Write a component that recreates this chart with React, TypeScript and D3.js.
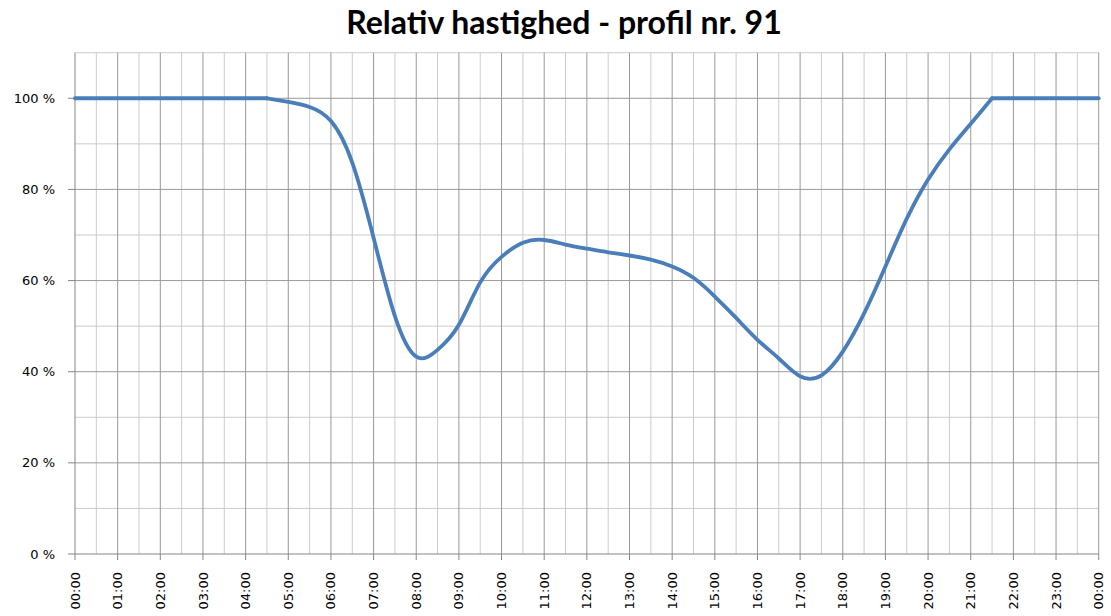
import React from "react";
import * as d3 from "d3";

const TITLE = "Relativ hastighed - profil nr. 91";

// time of day in hours (half-hourly samples)
const times: number[] = [
  0, 0.5, 1, 1.5, 2, 2.5, 3, 3.5, 4, 4.5, 5, 5.5, 6, 6.5, 7, 7.5, 8, 8.5, 9, 9.5,
  10, 10.5, 11, 11.5, 12, 12.5, 13, 13.5, 14, 14.5, 15, 15.5, 16, 16.5, 17, 17.5,
  18, 18.5, 19, 19.5, 20, 20.5, 21, 21.5, 22, 22.5, 23, 23.5, 24,
];
// relative speed in percent
const speeds: number[] = [
  100, 100, 100, 100, 100, 100, 100, 100, 100, 100, 99.2, 98.1, 95.0, 85.9, 69.4,
  52.2, 43.3, 44.8, 50.3, 59.6, 65.2, 68.3, 68.9, 67.9, 67.0, 66.2, 65.5, 64.6,
  63.1, 60.6, 56.5, 51.8, 47.0, 42.9, 39.0, 39.2, 44.4, 52.8, 63.1, 73.6, 82.2,
  88.8, 94.4, 100, 100, 100, 100, 100, 100,
];

const xTickHours: number[] = d3.range(0, 25);
const xTickLabels: string[] = [
  "00:00", "01:00", "02:00", "03:00", "04:00", "05:00", "06:00", "07:00", "08:00",
  "09:00", "10:00", "11:00", "12:00", "13:00", "14:00", "15:00", "16:00", "17:00",
  "18:00", "19:00", "20:00", "21:00", "22:00", "23:00", "00:00",
];
const yTickValues: number[] = [0, 20, 40, 60, 80, 100];
const yTickLabels: string[] = ["0 %", "20 %", "40 %", "60 %", "80 %", "100 %"];

const W = 1111;
const H = 616;
const LEFT = 75;
const RIGHT = 1098.7;
const BOTTOM = 554;
const TOP = 52.7;

export default function App() {
  const x = d3.scaleLinear().domain([0, 24]).range([LEFT, RIGHT]);
  const y = d3.scaleLinear().domain([0, 110]).range([BOTTOM, TOP]);

  const minorX = d3.range(0.5, 24, 1);
  const majorX = d3.range(1, 25, 1);
  const minorY = d3.range(10, 111, 20);
  const majorY = d3.range(20, 101, 20);

  const pts: [number, number][] = times.map((t, i) => [t, speeds[i]]);
  // split where the curve leaves / reaches the flat 100 % plateau
  const firstDrop = speeds.findIndex((v) => v < 100) - 1;
  let lastRise = speeds.length - 1;
  while (lastRise > 0 && speeds[lastRise - 1] >= 100) lastRise--;

  const straight = d3
    .line<[number, number]>()
    .x((d) => x(d[0]))
    .y((d) => y(d[1]));
  const smooth = d3
    .line<[number, number]>()
    .x((d) => x(d[0]))
    .y((d) => y(d[1]))
    .curve(d3.curveNatural);

  const segs = [
    straight(pts.slice(0, firstDrop + 1)) || "",
    smooth(pts.slice(firstDrop, lastRise + 1)) || "",
    straight(pts.slice(lastRise)) || "",
  ];

  const font = "DejaVu Sans, Verdana, sans-serif";
  const light = "#cccccc";
  const dark = "#999999";

  return (
    <div style={{ position: "absolute", left: 0, top: 0 }}>
      <svg width={W} height={H} style={{ display: "block", background: "#fff" }}>
        <text
          x={(346 + 782) / 2}
          y={34}
          textAnchor="middle"
          fontFamily="Lato, Calibri, sans-serif"
          fontWeight="bold"
          fontSize={32}
          fill="#000"
        >
          {TITLE}
        </text>

        {minorX.map((h) => (
          <line key={"mx" + h} x1={x(h)} x2={x(h)} y1={y(110)} y2={y(0)} stroke={light} strokeWidth={1} />
        ))}
        {minorY.map((v) => (
          <line key={"my" + v} x1={x(0)} x2={x(24)} y1={y(v)} y2={y(v)} stroke={light} strokeWidth={1} />
        ))}
        {majorX.map((h) => (
          <line key={"Mx" + h} x1={x(h)} x2={x(h)} y1={y(110)} y2={y(0)} stroke={dark} strokeWidth={1} />
        ))}
        {majorY.map((v) => (
          <line key={"My" + v} x1={x(0)} x2={x(24)} y1={y(v)} y2={y(v)} stroke={dark} strokeWidth={1} />
        ))}

        {/* axes */}
        <line x1={x(0)} x2={x(0)} y1={y(110)} y2={y(0)} stroke="#868686" strokeWidth={1} />
        <line x1={x(0)} x2={x(24)} y1={y(0)} y2={y(0)} stroke="#868686" strokeWidth={1} />

        {yTickValues.map((v, i) => (
          <g key={"yt" + v}>
            <line x1={x(0) - 7} x2={x(0)} y1={y(v)} y2={y(v)} stroke="#868686" />
            <text
              x={55}
              y={y(v)}
              dy="0.35em"
              textAnchor="end"
              fontFamily={font}
              fontSize={13}
              fill="#000"
            >
              {yTickLabels[i]}
            </text>
          </g>
        ))}

        {xTickHours.map((h, i) => (
          <g key={"xt" + i}>
            <line x1={x(h)} x2={x(h)} y1={y(0)} y2={y(0) + 6} stroke="#868686" />
            <text
              transform={`translate(${x(h)},572) rotate(-90)`}
              x={0}
              y={0}
              dy="0.35em"
              textAnchor="end"
              fontFamily={font}
              fontSize={13}
              fill="#000"
            >
              {xTickLabels[i]}
            </text>
          </g>
        ))}

        {segs.map((d, i) => (
          <path
            key={"seg" + i}
            d={d}
            fill="none"
            stroke="#4a7ebb"
            strokeWidth={3.8}
            strokeLinejoin="round"
            strokeLinecap="round"
          />
        ))}
      </svg>
    </div>
  );
}
